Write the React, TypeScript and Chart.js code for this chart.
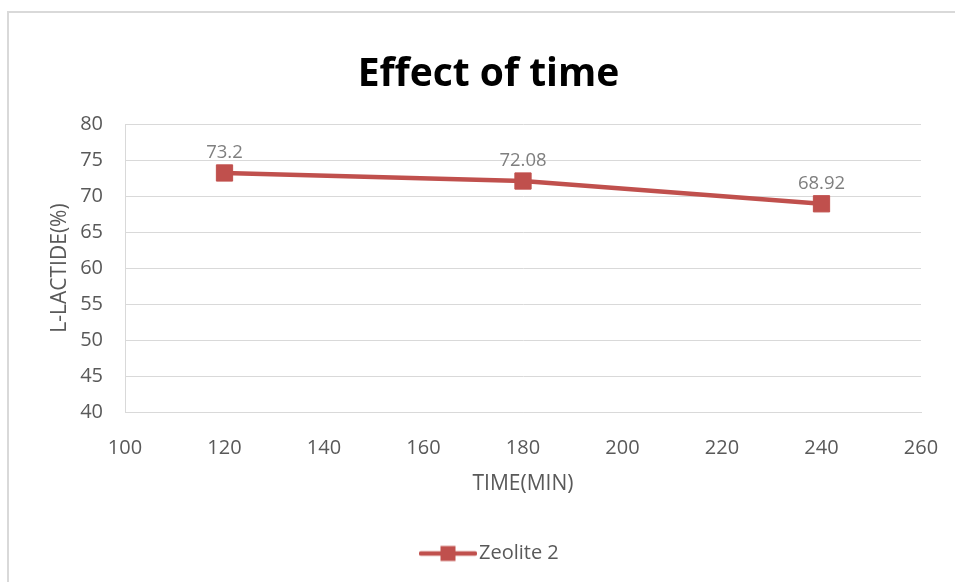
import React, { useEffect, useRef } from 'react';
import { Chart, registerables } from 'chart.js';

Chart.register(...registerables);

const chartTitle = 'Effect of time';
const seriesName = 'Zeolite 2';
const xAxisTitle = 'TIME(MIN)';
const yAxisTitle = 'L-LACTIDE(%)';
const timeMin = [120, 180, 240];
const lactidePct = [73.2, 72.08, 68.92];
const xTicks = [100, 120, 140, 160, 180, 200, 220, 240, 260];
const yTicks = [40, 45, 50, 55, 60, 65, 70, 75, 80];

const FONT = "'Open Sans', 'Noto Sans', sans-serif";
const RED = '#C0504D';
const GRID = '#d9d9d9';
const TEXT = '#595959';

export default function App() {
  const ref = useRef<HTMLCanvasElement | null>(null);

  useEffect(() => {
    const canvas = ref.current;
    if (!canvas) return;

    const icon = document.createElement('canvas');
    icon.width = 58;
    icon.height = 18;
    const ic = icon.getContext('2d')!;
    ic.strokeStyle = RED;
    ic.lineWidth = 4.5;
    ic.lineCap = 'round';
    ic.beginPath();
    ic.moveTo(2, 9);
    ic.lineTo(56, 9);
    ic.stroke();
    ic.fillStyle = RED;
    ic.fillRect(29 - 7.5, 9 - 7.5, 15, 15);

    const framePlugin = {
      id: 'frame',
      beforeDraw(chart: any) {
        const c = chart.ctx;
        c.save();
        c.fillStyle = '#ffffff';
        c.fillRect(0, 0, chart.width, chart.height);
        c.fillStyle = GRID;
        c.fillRect(7, 11, 2, chart.height - 11);
        c.fillRect(7, 11, chart.width - 7, 2);
        c.restore();
      },
    };

    const labelPlugin = {
      id: 'pointLabels',
      afterDatasetsDraw(chart: any) {
        const c = chart.ctx;
        const meta = chart.getDatasetMeta(0);
        const data = chart.data.datasets[0].data as any[];
        c.save();
        c.font = `18.5px ${FONT}`;
        c.fillStyle = '#7f7f7f';
        c.textAlign = 'center';
        c.textBaseline = 'middle';
        meta.data.forEach((pt: any, i: number) => {
          const v = data[i].y;
          c.fillText(String(v), pt.x, pt.y - 20);
        });
        c.restore();
      },
    };

    const boxShift = {
      id: 'boxShift',
      afterLayout(chart: any) {
        const lg = chart.legend;
        if (lg && lg.lineWidths) {
          const pad = 10;
          const start = (lg.left + pad + lg.right - lg.lineWidths[0]) / 2;
          const shift = 427 - start;
          lg.left += shift;
          lg.right += shift;
        }
        const tb = chart.titleBlock;
        if (tb) {
          const shift = 488.5 - (tb.left + tb.right) / 2;
          tb.left += shift;
          tb.right += shift;
        }
      },
    };

    const chart = new Chart(canvas, {
      type: 'line',
      data: {
        datasets: [
          {
            label: seriesName,
            data: timeMin.map((t, i) => ({ x: t, y: lactidePct[i] })),
            borderColor: RED,
            backgroundColor: RED,
            borderWidth: 4.5,
            pointStyle: 'rect',
            pointRadius: 11.5,
            pointBorderWidth: 1,
            pointBackgroundColor: RED,
            pointBorderColor: RED,
            tension: 0,
          },
        ],
      },
      options: {
        responsive: false,
        animation: false,
        layout: { padding: { left: 0, right: 34, top: 0, bottom: 8.5 } },
        plugins: {
          title: {
            display: true,
            text: chartTitle,
            color: '#000000',
            font: { family: FONT, size: 39, weight: 'bold' },
            padding: { top: 51.6, bottom: 25.6 },
          },
          legend: {
            display: true,
            position: 'bottom',
            labels: {
              usePointStyle: true,
              pointStyleWidth: 42,
              padding: 10,
              color: TEXT,
              font: { family: FONT, size: 20 },
              generateLabels: (ch: any) => {
                const items = (Chart.defaults.plugins.legend.labels as any).generateLabels(ch);
                items.forEach((it: any) => {
                  it.pointStyle = icon;
                });
                return items;
              },
            },
          },
          tooltip: { enabled: false },
        },
        scales: {
          x: {
            type: 'linear',
            min: xTicks[0],
            max: xTicks[xTicks.length - 1],
            ticks: {
              stepSize: xTicks[1] - xTicks[0],
              color: TEXT,
              font: { family: FONT, size: 20 },
              padding: 24,
            },
            grid: { display: false, drawTicks: false },
            border: { display: true, color: GRID, width: 1 },
            title: {
              display: true,
              text: xAxisTitle,
              color: TEXT,
              font: { family: FONT, size: 21 },
              padding: { top: 0, bottom: 36.4 },
            },
            afterFit(scale: any) {
              scale.height = 121.5;
              scale.paddingLeft = 0;
              scale.paddingRight = 0;
            },
          },
          y: {
            type: 'linear',
            min: yTicks[0],
            max: yTicks[yTicks.length - 1],
            ticks: {
              stepSize: yTicks[1] - yTicks[0],
              color: TEXT,
              font: { family: FONT, size: 20 },
              padding: 22,
            },
            grid: { color: GRID, lineWidth: 1, drawTicks: false },
            border: { display: true, color: GRID, width: 1 },
            title: {
              display: true,
              text: yAxisTitle,
              color: TEXT,
              font: { family: FONT, size: 21 },
              padding: { top: 47.4, bottom: 0 },
            },
            afterFit(scale: any) {
              scale.width = 125;
            },
          },
        },
      },
      plugins: [framePlugin, labelPlugin, boxShift],
    } as any);

    return () => chart.destroy();
  }, []);

  return (
    <div style={{ position: 'fixed', left: 0, top: 0, width: 955, height: 582, background: '#fff' }}>
      <canvas ref={ref} width={955} height={582} style={{ display: 'block', width: 955, height: 582 }} />
    </div>
  );
}
